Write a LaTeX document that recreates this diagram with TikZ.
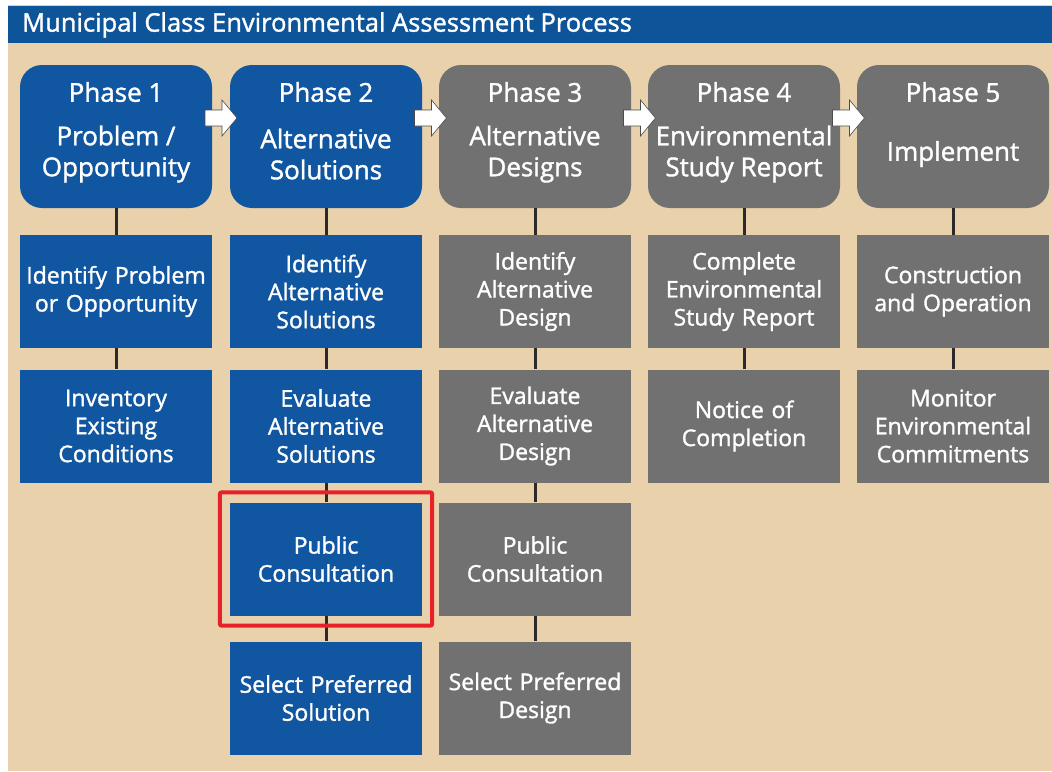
\documentclass[tikz,border=0pt]{standalone}
\usepackage{fontspec}
\setmainfont{Open Sans}[FakeBold=1.4]
\usetikzlibrary{fit,positioning}
\definecolor{eaBlue}{HTML}{1156A0}
\definecolor{eaBar}{HTML}{0E5499}
\definecolor{eaGrey}{HTML}{717171}
\definecolor{eaSand}{HTML}{E8D1AB}
\definecolor{eaLine}{HTML}{2A2A2A}
\definecolor{eaRed}{HTML}{E8202A}

\begin{document}
\begin{tikzpicture}
    [
      x=1pt,y=-1pt,
      phase/.style={minimum width=192pt,minimum height=143pt,inner sep=0pt,rounded corners=22pt},
      active/.style={fill=eaBlue},
      later/.style={fill=eaGrey},
      stepbox/.style={minimum width=192pt,minimum height=113pt,inner sep=0pt,text width=188pt,align=center,
        text=white,font=\fontsize{23}{28}\selectfont},
      ptitle/.style={text=white,font=\fontsize{26}{31}\selectfont,inner sep=0pt},
      psub/.style={text=white,font=\fontsize{26}{31}\selectfont,align=center,inner sep=0pt},
      link/.style={draw=eaLine,line width=3pt},
      flow/.style={fill=white,draw=gray!60!black,line width=0.6pt,line join=miter},
    ]

    \useasboundingbox (0,0) rectangle (1052,771);
    \fill [white] (0,0) rectangle (1052,771);
    \fill [eaSand] (8,5) rectangle (1052,771);
    \fill [eaBar] (8,6) rectangle (1052,43);
    \node (title) [anchor=west,text=white,font=\fontsize{25.5}{30}\selectfont,inner sep=0pt] at (22,25)
      {Municipal Class Environmental Assessment Process};

    % phase headers
    \node (phase-1) [phase,active] at (116,136.5) {};
    \node (phase-2) [phase,active] at (326,136.5) {};
    \node (phase-3) [phase,later] at (535,136.5) {};
    \node (phase-4) [phase,later] at (744,136.5) {};
    \node (phase-5) [phase,later] at (953,136.5) {};

    \node (phase-1-title) [ptitle] at (116,92) {Phase 1};
    \node (phase-2-title) [ptitle] at (326,92) {Phase 2};
    \node (phase-3-title) [ptitle] at (535,92) {Phase 3};
    \node (phase-4-title) [ptitle] at (744,92) {Phase 4};
    \node (phase-5-title) [ptitle] at (953,92) {Phase 5};

    \node (phase-1-sub) [psub] at (116,154) {Problem /\\Opportunity};
    \node (phase-2-sub) [psub] at (326,154) {Alternative\\Solutions};
    \node (phase-3-sub) [psub] at (535,154) {Alternative\\Designs};
    \node (phase-4-sub) [psub] at (744,154) {Environmental\\Study Report};
    \node (phase-5-sub) [psub] at (953,154) {Implement};

    % steps
    \node (step-1a) [stepbox,active] at (116,291.5) {Identify Problem\\or Opportunity};
    \node (step-1b) [stepbox,active] at (116,426) {Inventory\\Existing\\Conditions};

    \node (step-2a) [stepbox,active] at (326,291.5) {Identify\\Alternative\\Solutions};
    \node (step-2b) [stepbox,active] at (326,426) {Evaluate\\Alternative\\Solutions};
    \node (step-2c) [stepbox,active] at (326,559) {Public\\Consultation};
    \node (step-2d) [stepbox,active] at (326,698) {Select Preferred\\Solution};

    \node (step-3a) [stepbox,later] at (535,291.5) {Identify\\Alternative\\Design};
    \node (step-3b) [stepbox,later] at (535,426) {Evaluate\\Alternative\\Design};
    \node (step-3c) [stepbox,later] at (535,559) {Public\\Consultation};
    \node (step-3d) [stepbox,later] at (535,698) {Select Preferred\\Design};

    \node (step-4a) [stepbox,later] at (744,291.5) {Complete\\Environmental\\Study Report};
    \node (step-4b) [stepbox,later] at (744,426) {Notice of\\Completion};

    \node (step-5a) [stepbox,later] at (953,291.5) {Construction\\and Operation};
    \node (step-5b) [stepbox,later] at (953,426) {Monitor\\Environmental\\Commitments};

    \path
    (phase-1) edge [link] (step-1a)
    (step-1a) edge [link] (step-1b)

    (phase-2) edge [link] (step-2a)
    (step-2a) edge [link] (step-2b)
    (step-2b) edge [link] (step-2c)
    (step-2c) edge [link] (step-2d)

    (phase-3) edge [link] (step-3a)
    (step-3a) edge [link] (step-3b)
    (step-3b) edge [link] (step-3c)
    (step-3c) edge [link] (step-3d)

    (phase-4) edge [link] (step-4a)
    (step-4a) edge [link] (step-4b)

    (phase-5) edge [link] (step-5a)
    (step-5a) edge [link] (step-5b)
    ;

    % arrows between phases
    \coordinate (go-12) at (205,118);
    \coordinate (go-23) at (414.5,118);
    \coordinate (go-34) at (623.5,118);
    \coordinate (go-45) at (832.5,118);
    \draw [flow] (go-12) ++(0,-8) -- ++(17,0) -- ++(0,-10) -- ++(15,18) -- ++(-15,18) -- ++(0,-10) -- ++(-17,0) -- cycle;
    \draw [flow] (go-23) ++(0,-8) -- ++(17,0) -- ++(0,-10) -- ++(15,18) -- ++(-15,18) -- ++(0,-10) -- ++(-17,0) -- cycle;
    \draw [flow] (go-34) ++(0,-8) -- ++(17,0) -- ++(0,-10) -- ++(15,18) -- ++(-15,18) -- ++(0,-10) -- ++(-17,0) -- cycle;
    \draw [flow] (go-45) ++(0,-8) -- ++(17,0) -- ++(0,-10) -- ++(15,18) -- ++(-15,18) -- ++(0,-10) -- ++(-17,0) -- cycle;

    \node [draw=eaRed,line width=4pt,rounded corners=2pt,fit=(step-2c),inner sep=10pt] (focus) {};

  \end{tikzpicture}
\end{document}
